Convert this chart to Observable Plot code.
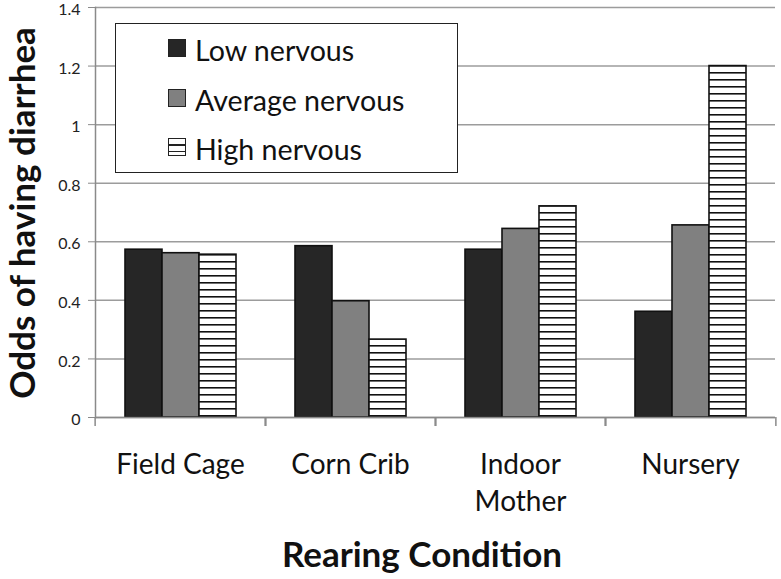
<!DOCTYPE html>
<html>
<head>
<meta charset="utf-8">
<script src="https://cdn.jsdelivr.net/npm/d3@7"></script>
<script src="https://cdn.jsdelivr.net/npm/@observablehq/plot@0.6"></script>
<style>
  html, body { margin: 0; padding: 0; background: #fff; }
  #wrap { position: relative; width: 781px; height: 579px; overflow: hidden; font-family: Lato, sans-serif; color: #111; }
  #wrap svg { position: absolute; left: 0; top: 0; }
  .ytitle { position: absolute; left: 21px; top: 213px; transform: translate(-50%, -50%) rotate(-90deg);
            white-space: nowrap; line-height: 1; font-size: 35px; font-weight: bold; }
  .xtitle { position: absolute; left: 422px; top: 536px; transform: translateX(-50%);
            white-space: nowrap; line-height: 1; font-size: 35px; font-weight: bold; }
  .legend { position: absolute; left: 115px; top: 23px; width: 343px; height: 150px; box-sizing: border-box;
            border: 1.5px solid #222; background: #fff; }
  .lrow { position: absolute; left: 52px; display: flex; align-items: center; line-height: 1; font-size: 28.6px; white-space: nowrap; }
  .sw { width: 18px; height: 18px; box-sizing: border-box; border: 1px solid #222; margin-right: 9px; }
  .lrow span { position: relative; top: 2px; }
</style>
</head>
<body>
<div id="wrap"></div>
<script>
// ---- data ----
const categories = ["Field Cage", "Corn Crib", "Indoor Mother", "Nursery"];
const categoryLabels = ["Field Cage", "Corn Crib", "Indoor\nMother", "Nursery"];
const series = ["Low nervous", "Average nervous", "High nervous"];
const lowNervous = [0.573, 0.585, 0.573, 0.361];
const averageNervous = [0.561, 0.397, 0.644, 0.656];
const highNervous = [0.556, 0.266, 0.721, 1.200];
const yTicks = [0, 0.2, 0.4, 0.6, 0.8, 1, 1.2, 1.4];
const yTitle = "Odds of having diarrhea";
const xTitle = "Rearing Condition";
const seriesFills = ["#262626", "#808080", "url(#hatch)"];

// ---- build table ----
const seriesValues = [lowNervous, averageNervous, highNervous];
const rows = categories.flatMap((c, i) => series.map((s, j) => ({category: c, series: s, value: seriesValues[j][i]})));
const fillOf = Object.fromEntries(series.map((s, j) => [s, seriesFills[j]]));
const labelOf = Object.fromEntries(categories.map((c, i) => [c, categoryLabels[i]]));

const halfStep = (781 - 93 - 5) / categories.length / 2;

const plot = Plot.plot({
  width: 781,
  height: 579,
  marginLeft: 93,
  marginRight: 5,
  marginTop: 7,
  marginBottom: 162,
  style: {fontFamily: "Lato, sans-serif", background: "transparent", color: "#222", overflow: "visible"},
  fx: {domain: categories, padding: 0, label: null},
  x: {domain: series, paddingInner: 0, paddingOuter: 0.74, axis: null},
  y: {domain: [0, 1.4], label: null},
  color: {type: "identity"},
  marks: [
    Plot.gridY(yTicks, {stroke: "#9c9c9c", strokeOpacity: 1, strokeWidth: 1.5}),
    Plot.barY(rows, {fx: "category", x: "series", y: "value", fill: d => fillOf[d.series], stroke: "#111", strokeWidth: 1.6}),
    Plot.ruleY([0], {stroke: "#8a8a8a", strokeWidth: 1.5}),
    Plot.frame({anchor: "left", facet: "super", stroke: "#8a8a8a", strokeWidth: 1.5}),
    Plot.axisY(yTicks, {label: null, tickSize: 7, text: null, tickFormat: () => "", stroke: "#8a8a8a"}),
    Plot.axisY(yTicks, {label: null, tickSize: 0, tickPadding: 15, dy: 2.5, fontSize: 16, tickFormat: d => String(d), fill: "#222"}),
    Plot.axisFx({anchor: "bottom", label: null, tickSize: 0, tickPadding: 31, fontSize: 28, lineHeight: 1.3, tickFormat: d => labelOf[d], fill: "#111"}),
    Plot.axisFx({anchor: "bottom", label: null, tickSize: 9, tickFormat: () => "", dx: -halfStep, stroke: "#8a8a8a", strokeWidth: 1.5}),
    Plot.axisFx({anchor: "bottom", label: null, tickSize: 9, tickFormat: () => "", dx: halfStep, stroke: "#8a8a8a", strokeWidth: 1.5})
  ]
});

// hatch pattern for the "High nervous" bars
const defs = d3.select(plot).insert("defs", ":first-child");
const pat = defs.append("pattern").attr("id", "hatch").attr("patternUnits", "userSpaceOnUse").attr("width", 8).attr("height", 7);
pat.append("rect").attr("width", 8).attr("height", 7).attr("fill", "#fff");
pat.append("rect").attr("y", 2).attr("width", 8).attr("height", 1.6).attr("fill", "#111");

const wrap = document.getElementById("wrap");
wrap.appendChild(plot);

// axis titles
const yt = document.createElement("div"); yt.className = "ytitle"; yt.textContent = yTitle; wrap.appendChild(yt);
const xt = document.createElement("div"); xt.className = "xtitle"; xt.textContent = xTitle; wrap.appendChild(xt);

// legend
const legend = document.createElement("div"); legend.className = "legend";
const rowTops = [10, 59.5, 109];
series.forEach((s, j) => {
  const r = document.createElement("div"); r.className = "lrow"; r.style.top = rowTops[j] + "px";
  const sw = document.createElement("div"); sw.className = "sw";
  sw.style.background = j === 2 ? "repeating-linear-gradient(to bottom, #fff 0px, #fff 5px, #222 5px, #222 6.5px)" : seriesFills[j];
  const t = document.createElement("span"); t.textContent = s;
  r.appendChild(sw); r.appendChild(t); legend.appendChild(r);
});
wrap.appendChild(legend);
</script>
</body>
</html>
